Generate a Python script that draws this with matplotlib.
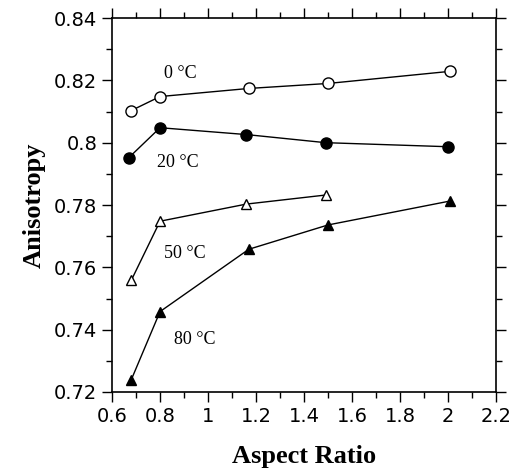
import matplotlib
matplotlib.use("Agg")
import matplotlib.pyplot as plt
from matplotlib.ticker import MultipleLocator

x_0c = [0.68, 0.80, 1.17, 1.50, 2.01]
y_0c = [0.8103, 0.8148, 0.8174, 0.8190, 0.8229]
x_20c = [0.67, 0.80, 1.16, 1.49, 2.00]
y_20c = [0.7952, 0.8048, 0.8026, 0.8000, 0.7987]
x_50c = [0.68, 0.80, 1.16, 1.49]
y_50c = [0.7558, 0.7748, 0.7803, 0.7832]
x_80c = [0.68, 0.80, 1.17, 1.50, 2.01]
y_80c = [0.7239, 0.7458, 0.7658, 0.7736, 0.7813]
labels = ["0 °C", "20 °C", "50 °C", "80 °C"]
label_pos = [(0.885, 0.8222), (0.875, 0.7935), (0.905, 0.7645), (0.945, 0.7368)]

fig = plt.figure(figsize=(5.26, 4.74), dpi=100)
ax = fig.add_axes([0.213, 0.173, 0.730, 0.789])

ax.plot(x_0c, y_0c, color="black", lw=1, marker="o", ms=8, mfc="white", mec="black", mew=1)
ax.plot(x_20c, y_20c, color="black", lw=1, marker="o", ms=8, mfc="black", mec="black")
ax.plot(x_50c, y_50c, color="black", lw=1, marker="^", ms=7, mfc="white", mec="black", mew=1)
ax.plot(x_80c, y_80c, color="black", lw=1, marker="^", ms=7, mfc="black", mec="black")

for lab, (lx, ly) in zip(labels, label_pos):
    ax.text(lx, ly, lab, fontsize=13, family="Liberation Serif", ha="center", va="center")

ax.set_xlim(0.6, 2.2)
ax.set_ylim(0.72, 0.84)
ax.xaxis.set_minor_locator(MultipleLocator(0.1))
ax.yaxis.set_minor_locator(MultipleLocator(0.01))
ax.set_xticks([0.6, 0.8, 1.0, 1.2, 1.4, 1.6, 1.8, 2.0, 2.2])
ax.set_xticklabels(["0.6", "0.8", "1", "1.2", "1.4", "1.6", "1.8", "2", "2.2"])
ax.set_yticks([0.72, 0.74, 0.76, 0.78, 0.80, 0.82, 0.84])
ax.set_yticklabels(["0.72", "0.74", "0.76", "0.78", "0.8", "0.82", "0.84"])
ax.tick_params(which="both", direction="out", top=True, right=True, labelsize=14, width=1)
ax.tick_params(which="major", length=7)
ax.tick_params(which="minor", length=4)
for s in ax.spines.values():
    s.set_linewidth(1.2)

ax.set_xlabel("Aspect Ratio", fontsize=19, fontweight="bold", family="Liberation Serif", labelpad=14)
ax.set_ylabel("Anisotropy", fontsize=19, fontweight="bold", family="Liberation Serif", labelpad=6)

fig.savefig("out.png", dpi=100)
